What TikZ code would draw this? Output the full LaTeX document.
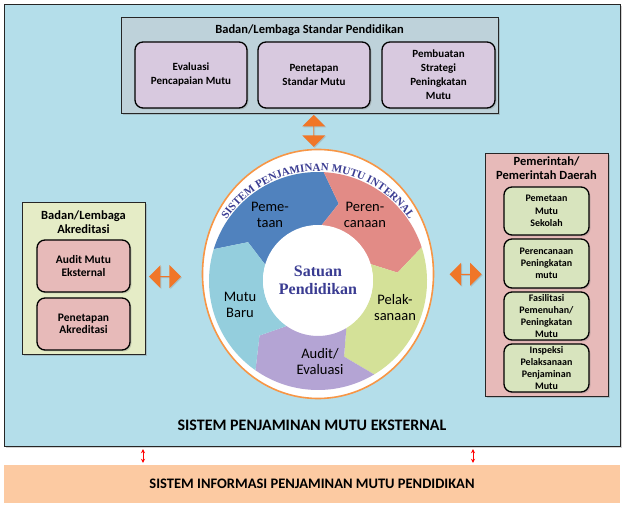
\documentclass[tikz,border=0pt]{standalone}
\usepackage{fontspec}
\setmainfont{Carlito}
\newfontfamily\seriffont{Liberation Serif}
\usetikzlibrary{shapes.geometric,shapes.arrows,shadows,decorations.text,calc,arrows.meta}

\definecolor{ekstbiru}{RGB}{180,222,234}
\definecolor{standarbg}{RGB}{190,210,218}
\definecolor{lavender}{RGB}{216,201,223}
\definecolor{akredbg}{RGB}{229,236,198}
\definecolor{merahmuda}{RGB}{231,186,185}
\definecolor{hijaumuda}{RGB}{216,228,190}
\definecolor{peach}{RGB}{252,202,162}
\definecolor{oranye}{RGB}{240,118,40}
\definecolor{cincinor}{RGB}{247,150,70}
\definecolor{pemetaan}{RGB}{80,130,190}
\definecolor{perencanaan}{RGB}{226,139,134}
\definecolor{pelaksanaan}{RGB}{212,225,152}
\definecolor{audit}{RGB}{180,164,212}
\definecolor{mutubaru}{RGB}{148,206,221}
\definecolor{tintabiru}{RGB}{58,60,146}

\begin{document}
\begin{tikzpicture}[x=1pt, y=1pt,
    wadah/.style={draw=black!85, thin, drop shadow={shadow xshift=2pt, shadow yshift=-2pt, opacity=.35}},
    isi/.style={draw=black, line width=1.3pt, rounded corners=8pt, align=center, inner sep=1pt,
        font=\bfseries\fontsize{11}{14}\selectfont, drop shadow={shadow xshift=1.5pt, shadow yshift=-1.5pt, opacity=.3}},
    isisedang/.style={isi, font=\bfseries\fontsize{11.5}{12.5}\selectfont},
    isikecil/.style={isi, font=\bfseries\fontsize{10}{12.3}\selectfont},
    judul/.style={font=\bfseries\fontsize{12.5}{14}\selectfont, align=center},
    siklus/.style={font=\fontsize{14.5}{16}\selectfont, align=center},
    dblpanah/.style={double arrow, fill=oranye, minimum height=32pt, minimum width=23pt,
        double arrow head extend=4.5pt, inner sep=0pt, drop shadow={shadow xshift=1pt, shadow yshift=-1pt, opacity=.3}},
    merah/.style={red, line width=1pt, <->, >={Stealth[length=4pt,width=4pt]}}]
    \useasboundingbox (0,0) rectangle (624,508);

    % Sistem eksternal dan sistem informasi
    \node[wadah, fill=ekstbiru, minimum width=616pt, minimum height=442pt] (ekst) at (312,283) {};
    \node[font=\bfseries\fontsize{16}{18}\selectfont] (jdlEkst) at (312,83) {SISTEM PENJAMINAN MUTU EKSTERNAL};
    \node[fill=peach, minimum width=616pt, minimum height=38pt, font=\bfseries\fontsize{14.5}{16}\selectfont] (info) at (312,24) {SISTEM INFORMASI PENJAMINAN MUTU PENDIDIKAN};
    \coordinate (infoKiri) at (143,0);
    \coordinate (infoKanan) at (473,0);
    \draw[merah, shorten <=3pt, shorten >=2pt] (ekst.south -| infoKiri) -- (info.north -| infoKiri);
    \draw[merah, shorten <=3pt, shorten >=2pt] (ekst.south -| infoKanan) -- (info.north -| infoKanan);

    % Badan standar
    \node[wadah, fill=standarbg, minimum width=377pt, minimum height=96pt] (standar) at (309.5,443) {};
    \node[judul] (jdlStandar) at (309.5,478) {Badan/Lembaga Standar Pendidikan};
    \node[isi, fill=lavender, minimum width=112pt, minimum height=66pt] (evaluasi) at (191,433) {Evaluasi\\Pencapaian Mutu};
    \node[isi, fill=lavender, minimum width=112pt, minimum height=66pt] (penetapan) at (314,433) {Penetapan\\Standar Mutu};
    \node[isi, fill=lavender, minimum width=113pt, minimum height=66pt] (strategi) at (438.5,433) {Pembuatan\\Strategi\\Peningkatan\\Mutu};

    % Badan akreditasi
    \node[wadah, fill=akredbg, minimum width=123pt, minimum height=152pt] (akred) at (83.5,230) {};
    \node[judul] (jdlAkred) at (83.5,286) {Badan/Lembaga\\Akreditasi};
    \node[isisedang, fill=merahmuda, minimum width=93pt, minimum height=52pt] (auditEks) at (83.5,242) {Audit Mutu\\Eksternal};
    \node[isisedang, fill=merahmuda, minimum width=93pt, minimum height=52pt] (tetapAkred) at (83.5,184) {Penetapan\\Akreditasi};

    % Pemerintah daerah
    \node[wadah, fill=merahmuda, minimum width=123pt, minimum height=243pt] (pemda) at (546.5,233.5) {};
    \node[judul] (jdlPemda) at (546.5,340) {Pemerintah/\\Pemerintah Daerah};
    \node[isikecil, fill=hijaumuda, minimum width=85pt, minimum height=48pt] (petaMutu) at (546.5,297) {Pemetaan\\Mutu\\Sekolah};
    \node[isikecil, fill=hijaumuda, minimum width=85pt, minimum height=49pt] (rencana) at (546.5,244.5) {Perencanaan\\Peningkatan\\mutu};
    \node[isikecil, fill=hijaumuda, minimum width=85pt, minimum height=48pt] (fasilitasi) at (546.5,192) {Fasilitasi\\Pemenuhan/\\Peningkatan\\Mutu};
    \node[isikecil, fill=hijaumuda, minimum width=85pt, minimum height=48pt] (inspeksi) at (546.5,140) {Inspeksi\\Pelaksanaan\\Penjaminan\\Mutu};

    % Siklus penjaminan mutu internal
    \node[ellipse, draw=cincinor, line width=1.6pt, fill=white, minimum width=231pt, minimum height=249pt] (cincin) at (318,234) {};
    \coordinate (pusat) at (318,227);
    \foreach \a/\b/\warna in {163/87/pemetaan, 87/18/perencanaan, 18/-59/pelaksanaan, -59/-125/audit, -125/-197/mutubaru}
        \fill[\warna] ($(pusat)+(\a:109)$) arc[start angle=\a, end angle=\b, radius=109]
            -- ($(pusat)+({\b-12}:80)$) -- ($(pusat)+(\b:55)$)
            arc[start angle=\b, end angle=\a, radius=55] -- ($(pusat)+({\a-12}:80)$) -- cycle;
    \node[circle, fill=white, minimum size=110pt, inner sep=0pt, align=center, text=tintabiru,
        font=\seriffont\bfseries\fontsize{16}{18}\selectfont] (satuan) at (318,228) {Satuan\\Pendidikan};
    \path[decorate, decoration={text along path, text align=center,
        text={|\seriffont\bfseries\fontsize{11}{12}\selectfont\color{tintabiru}|SISTEM PENJAMINAN MUTU INTERNAL}}]
        ($(pusat)+(155:110)$) arc[start angle=155, end angle=25, radius=110];
    \node[siklus] (lblPeta) at (270,293) {Peme-\\taan};
    \node[siklus] (lblRencana) at (365,293) {Peren-\\canaan};
    \node[siklus] (lblPelak) at (395,200) {Pelak-\\sanaan};
    \node[siklus] (lblAudit) at (320,146) {Audit/\\Evaluasi};
    \node[siklus] (lblBaru) at (240,203) {Mutu\\Baru};

    % Panah penghubung
    \node[dblpanah, shape border rotate=90] (panahAtas) at ($(standar.south)!0.5!(cincin.north)$) {};
    \node[dblpanah] (panahKiri) at ($(akred.east)!0.35!(cincin.west)$) {};
    \node[dblpanah] (panahKanan) at ($(cincin.east)!0.62!(pemda.west)$) {};
\end{tikzpicture}
\end{document}
